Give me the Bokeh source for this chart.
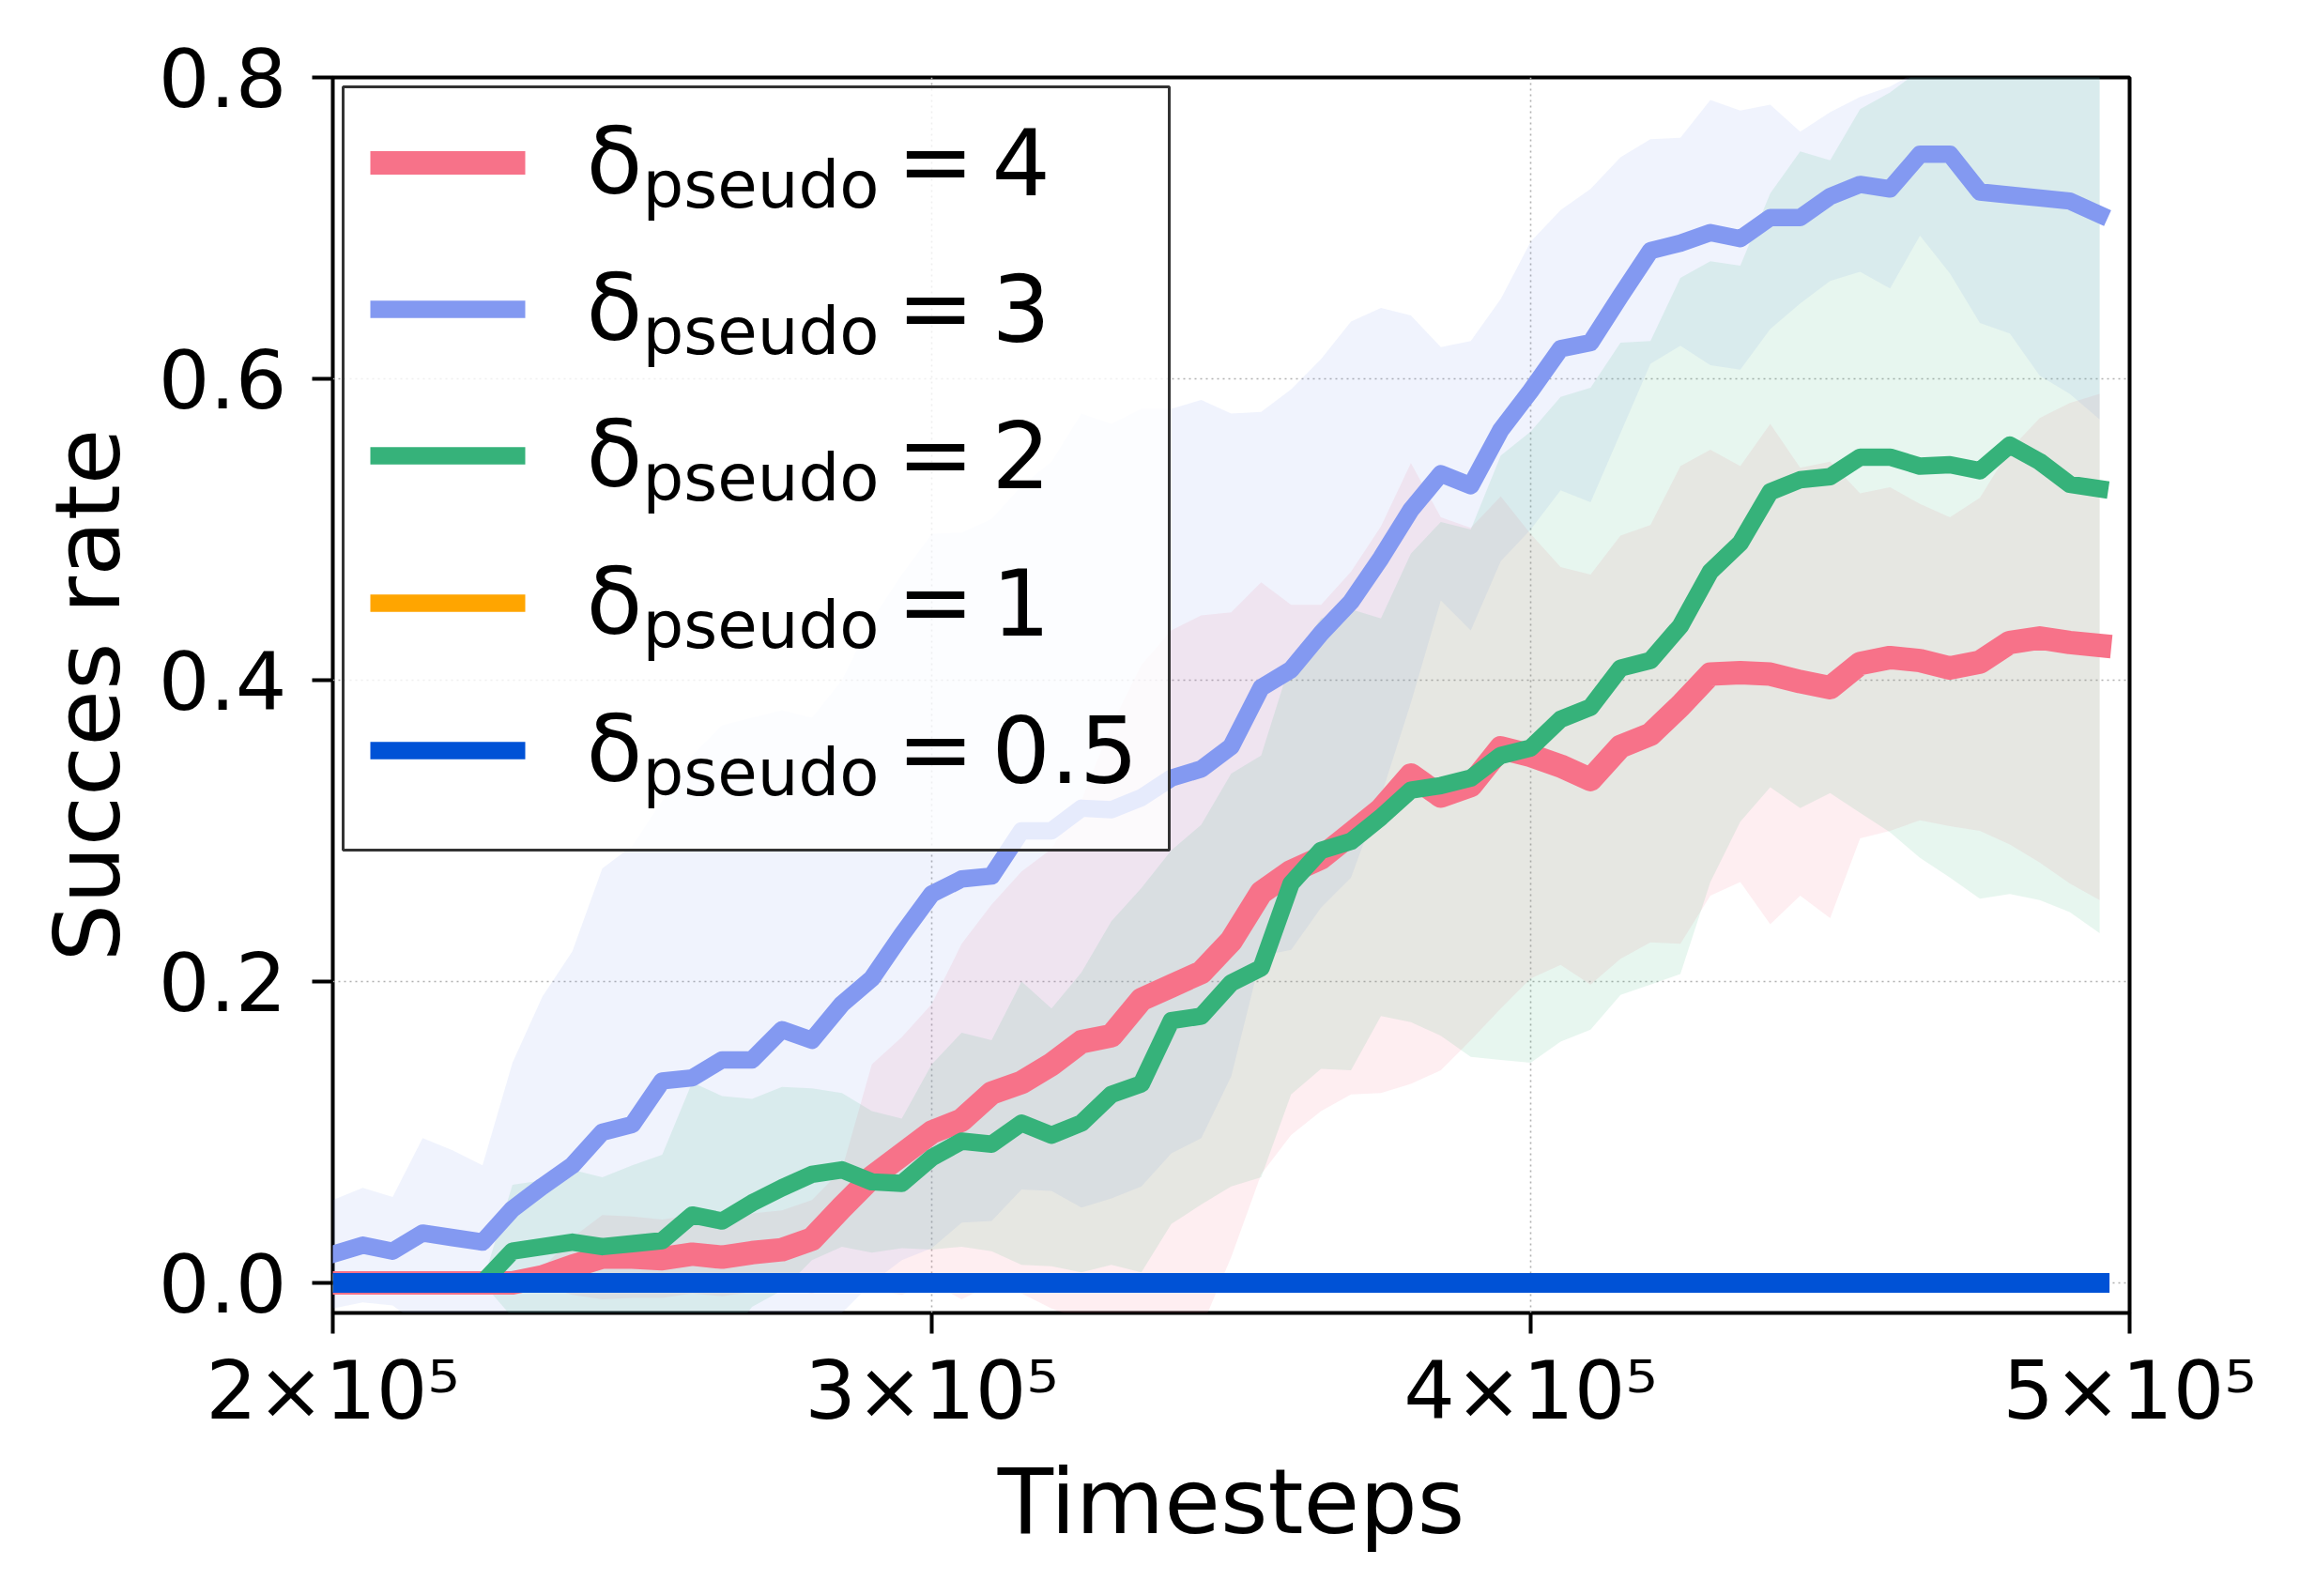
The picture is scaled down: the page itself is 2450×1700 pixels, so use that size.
from bokeh.plotting import figure
from bokeh.models import Range1d, FixedTicker, PrintfTickFormatter, BoxAnnotation, Label
from bokeh.embed import file_html
from bokeh.resources import INLINE

# ---------------- data ----------------
timesteps = list(range(200000, 500000, 5000))  # 60 evaluation points

series_names = ["4", "3", "2", "1", "0.5"]

mean_d4 = [0.0, 0.0, 0.0, 0.0, 0.0, 0.0, 0.0, 0.004, 0.011, 0.017,
           0.017, 0.016, 0.019, 0.017, 0.020, 0.022, 0.029, 0.050, 0.070, 0.085,
           0.100, 0.108, 0.126, 0.133, 0.145, 0.160, 0.164, 0.188, 0.197, 0.206,
           0.227, 0.259, 0.273, 0.282, 0.298, 0.314, 0.337, 0.323, 0.330, 0.355,
           0.350, 0.343, 0.334, 0.356, 0.364, 0.383, 0.404, 0.405, 0.404, 0.399,
           0.395, 0.411, 0.415, 0.413, 0.408, 0.412, 0.425, 0.428, 0.425, 0.423]
upper_d4 = [0.0, 0.0, 0.0, 0.0, 0.0, 0.0, 0.0, 0.010, 0.030, 0.045,
            0.044, 0.042, 0.045, 0.043, 0.046, 0.048, 0.055, 0.075, 0.145, 0.163,
            0.185, 0.225, 0.251, 0.273, 0.288, 0.320, 0.370, 0.410, 0.433, 0.443,
            0.445, 0.465, 0.450, 0.450, 0.472, 0.502, 0.544, 0.508, 0.501, 0.522,
            0.497, 0.475, 0.470, 0.496, 0.503, 0.542, 0.553, 0.542, 0.570, 0.541,
            0.545, 0.524, 0.528, 0.517, 0.508, 0.521, 0.553, 0.574, 0.584, 0.590]
lower_d4 = [0.0, 0.0, 0.0, 0.0, 0.0, 0.0, 0.0, -0.002, -0.008, -0.011,
            -0.010, -0.010, -0.007, -0.009, -0.006, -0.004, -0.007, -0.002, -0.005, -0.008,
            0.000, -0.011, -0.001, -0.007, -0.017, -0.025, -0.030, -0.030, -0.032, -0.030,
            0.017, 0.072, 0.098, 0.114, 0.125, 0.126, 0.132, 0.141, 0.161, 0.182,
            0.202, 0.211, 0.198, 0.215, 0.226, 0.225, 0.257, 0.266, 0.238, 0.257,
            0.242, 0.295, 0.300, 0.307, 0.303, 0.300, 0.291, 0.279, 0.265, 0.254]

mean_d3 = [0.019, 0.025, 0.021, 0.033, 0.030, 0.027, 0.049, 0.064, 0.078, 0.100,
           0.105, 0.134, 0.136, 0.148, 0.148, 0.168, 0.161, 0.185, 0.202, 0.231,
           0.258, 0.268, 0.270, 0.300, 0.300, 0.315, 0.314, 0.322, 0.335, 0.341,
           0.356, 0.395, 0.407, 0.431, 0.452, 0.481, 0.513, 0.537, 0.529, 0.566,
           0.592, 0.620, 0.624, 0.655, 0.685, 0.690, 0.697, 0.693, 0.707, 0.707,
           0.721, 0.729, 0.726, 0.749, 0.749, 0.724, 0.722, 0.720, 0.718, 0.709]
upper_d3 = [0.055, 0.063, 0.057, 0.096, 0.088, 0.078, 0.146, 0.190, 0.220, 0.275,
            0.290, 0.320, 0.350, 0.370, 0.375, 0.380, 0.375, 0.400, 0.440, 0.470,
            0.497, 0.498, 0.507, 0.529, 0.545, 0.577, 0.570, 0.580, 0.580, 0.586,
            0.577, 0.578, 0.593, 0.613, 0.638, 0.647, 0.642, 0.621, 0.625, 0.653,
            0.691, 0.712, 0.726, 0.747, 0.759, 0.760, 0.785, 0.778, 0.782, 0.764,
            0.777, 0.787, 0.794, 0.805, 0.815, 0.830, 0.840, 0.850, 0.850, 0.840]
lower_d3 = [-0.017, -0.013, -0.015, -0.030, -0.028, -0.024, -0.050, -0.060, -0.065, -0.075,
            -0.080, -0.055, -0.080, -0.075, -0.080, -0.045, -0.050, -0.020, 0.000, 0.015,
            0.023, 0.040, 0.041, 0.062, 0.061, 0.050, 0.056, 0.064, 0.086, 0.096,
            0.137, 0.217, 0.221, 0.249, 0.269, 0.323, 0.385, 0.453, 0.433, 0.479,
            0.500, 0.526, 0.518, 0.564, 0.610, 0.622, 0.609, 0.606, 0.633, 0.650,
            0.665, 0.671, 0.660, 0.695, 0.670, 0.637, 0.630, 0.602, 0.590, 0.573]

mean_d2 = [0.0, 0.0, 0.0, 0.0, 0.0, 0.0, 0.021, 0.024, 0.027, 0.024,
           0.026, 0.028, 0.045, 0.041, 0.053, 0.063, 0.072, 0.075, 0.067, 0.066,
           0.083, 0.094, 0.092, 0.106, 0.098, 0.106, 0.125, 0.132, 0.174, 0.177,
           0.199, 0.209, 0.265, 0.287, 0.293, 0.309, 0.327, 0.330, 0.335, 0.350,
           0.355, 0.374, 0.382, 0.408, 0.413, 0.436, 0.472, 0.491, 0.525, 0.533,
           0.535, 0.548, 0.548, 0.542, 0.543, 0.539, 0.556, 0.545, 0.530, 0.527]
upper_d2 = [0.0, 0.0, 0.0, 0.0, 0.0, 0.0, 0.065, 0.068, 0.075, 0.070,
            0.078, 0.085, 0.133, 0.124, 0.122, 0.130, 0.129, 0.126, 0.114, 0.109,
            0.145, 0.166, 0.161, 0.200, 0.182, 0.206, 0.240, 0.262, 0.287, 0.304,
            0.338, 0.350, 0.413, 0.441, 0.447, 0.441, 0.484, 0.505, 0.500, 0.549,
            0.565, 0.588, 0.594, 0.624, 0.625, 0.667, 0.678, 0.675, 0.723, 0.751,
            0.745, 0.779, 0.790, 0.805, 0.820, 0.830, 0.835, 0.830, 0.820, 0.815]
lower_d2 = [0.0, 0.0, 0.0, 0.0, 0.0, 0.0, -0.023, -0.020, -0.022, -0.022,
            -0.026, -0.030, -0.043, -0.042, -0.016, -0.005, 0.015, 0.024, 0.020, 0.023,
            0.022, 0.024, 0.021, 0.012, 0.011, 0.007, 0.012, 0.007, 0.039, 0.052,
            0.064, 0.070, 0.125, 0.142, 0.141, 0.177, 0.173, 0.164, 0.150, 0.148,
            0.146, 0.160, 0.168, 0.191, 0.198, 0.205, 0.266, 0.306, 0.329, 0.315,
            0.325, 0.312, 0.299, 0.282, 0.269, 0.255, 0.258, 0.254, 0.246, 0.232]

mean_d1 = [0.0, 0.0, 0.0, 0.0, 0.0, 0.0, 0.0, 0.0, 0.0, 0.0,
           0.0, 0.0, 0.0, 0.0, 0.0, 0.0, 0.0, 0.0, 0.0, 0.0,
           0.0, 0.0, 0.0, 0.0, 0.0, 0.0, 0.0, 0.0, 0.0, 0.0,
           0.0, 0.0, 0.0, 0.0, 0.0, 0.0, 0.0, 0.0, 0.0, 0.0,
           0.0, 0.0, 0.0, 0.0, 0.0, 0.0, 0.0, 0.0, 0.0, 0.0,
           0.0, 0.0, 0.0, 0.0, 0.0, 0.0, 0.0, 0.0, 0.0, 0.0]
mean_d05 = [0.0, 0.0, 0.0, 0.0, 0.0, 0.0, 0.0, 0.0, 0.0, 0.0,
            0.0, 0.0, 0.0, 0.0, 0.0, 0.0, 0.0, 0.0, 0.0, 0.0,
            0.0, 0.0, 0.0, 0.0, 0.0, 0.0, 0.0, 0.0, 0.0, 0.0,
            0.0, 0.0, 0.0, 0.0, 0.0, 0.0, 0.0, 0.0, 0.0, 0.0,
            0.0, 0.0, 0.0, 0.0, 0.0, 0.0, 0.0, 0.0, 0.0, 0.0,
            0.0, 0.0, 0.0, 0.0, 0.0, 0.0, 0.0, 0.0, 0.0, 0.0]

x_ticks = [200000, 300000, 400000, 500000]
x_tick_labels = ["2×10⁵", "3×10⁵", "4×10⁵", "5×10⁵"]
y_ticks = [0.0, 0.2, 0.4, 0.6, 0.8]

# ---------------- style ----------------
COL = {"4": "#F77289", "3": "#8399F1", "2": "#36B27A", "1": "#FFA500", "0.5": "#0052D6"}
LW = {"4": 25, "3": 18.5, "2": 18.5, "1": 18.5, "0.5": 21}
LEG_LW = {"4": 25, "3": 18.5, "2": 18.5, "1": 18.5, "0.5": 18.5}
FONT = "DejaVu Sans"

X0, X1 = 200000, 500000
Y0, Y1 = -0.02, 0.8
FL, FT, FW, FH = 354, 82, 1914, 1316
FB = FT + FH

p = figure(frame_width=FW, frame_height=FH,
           x_range=Range1d(X0, X1), y_range=Range1d(Y0, Y1),
           output_backend="svg", toolbar_location=None,
           min_border_left=FL, min_border_top=FT,
           min_border_right=2434 - FL - FW, min_border_bottom=1684 - FB)
p.background_fill_color = "white"
p.border_fill_color = "white"
p.outline_line_color = "black"
p.outline_line_width = 4

bands = [(upper_d4, lower_d4, mean_d4, "4"),
         (upper_d3, lower_d3, mean_d3, "3"),
         (upper_d2, lower_d2, mean_d2, "2")]
for up, lo, mn, key in bands:
    p.varea(x=timesteps, y1=lo, y2=up, fill_color=COL[key], fill_alpha=0.12)
for up, lo, mn, key in bands:
    p.line(timesteps, mn, line_color=COL[key], line_width=LW[key],
           line_join="round", line_cap="square")
p.line(timesteps, mean_d1, line_color=COL["1"], line_width=LW["1"], line_cap="square")
p.line(timesteps, mean_d05, line_color=COL["0.5"], line_width=LW["0.5"], line_cap="square")

# axes
for ax in (p.xaxis[0], p.yaxis[0]):
    ax.axis_line_color = None
    ax.major_tick_line_color = "black"
    ax.major_tick_line_width = 4
    ax.major_tick_out = 22
    ax.major_tick_in = 0
    ax.minor_tick_line_color = None
    ax.major_label_text_font = FONT
    ax.major_label_text_font_size = "86px"
    ax.major_label_text_color = "black"
    ax.axis_label_text_font = FONT
    ax.axis_label_text_font_size = "97px"
    ax.axis_label_text_font_style = "normal"
    ax.axis_label_text_color = "black"

p.xaxis.ticker = FixedTicker(ticks=x_ticks)
p.xaxis.major_label_overrides = dict(zip(x_ticks, x_tick_labels))
p.xaxis.major_label_standoff = 10
p.xaxis.axis_label = "Timesteps"
p.xaxis.axis_label_standoff = 9

p.yaxis.ticker = FixedTicker(ticks=y_ticks)
p.yaxis.formatter = PrintfTickFormatter(format="%.1f")
p.yaxis.major_label_standoff = 27
p.yaxis.axis_label = "Succes rate"
p.yaxis.axis_label_standoff = 16

for g in (p.xgrid[0], p.ygrid[0]):
    g.grid_line_color = "#b0b0b0"
    g.grid_line_width = 1.6
    g.grid_line_dash = "2 4"

# ---------------- legend (drawn by hand for the subscript) ----------------
def xd(cx):
    return X0 + (cx - FL) / FW * (X1 - X0)

def yd(cy):
    return Y0 + (FB - cy) / FH * (Y1 - Y0)

p.add_layout(BoxAnnotation(left=xd(365), right=xd(1245), top=yd(92), bottom=yd(905),
                           fill_color="white", fill_alpha=0.8,
                           line_color="#333333", line_width=3, line_alpha=1.0))
row_y = [173, 329, 485, 642, 799]
for key, sy in zip(series_names, row_y):
    p.segment(x0=[xd(394)], y0=[yd(sy)], x1=[xd(559)], y1=[yd(sy)],
              line_color=COL[key], line_width=LEG_LW[key], level="overlay")
    p.add_layout(Label(x=xd(624), y=yd(sy - 2), text="δ", text_font=FONT,
                       text_font_size="98px", text_baseline="alphabetic",
                       text_align="left", text_color="black", level="overlay"))
    p.add_layout(Label(x=xd(684), y=yd(sy + 23), text="pseudo", text_font=FONT,
                       text_font_size="69px", text_baseline="alphabetic",
                       text_align="left", text_color="black", level="overlay"))
    p.add_layout(Label(x=xd(955), y=yd(sy - 2), text="=", text_font=FONT,
                       text_font_size="98px", text_baseline="alphabetic",
                       text_align="left", text_color="black", level="overlay"))
    p.add_layout(Label(x=xd(1056), y=yd(sy - 2), text=key, text_font=FONT,
                       text_font_size="98px", text_baseline="alphabetic",
                       text_align="left", text_color="black", level="overlay"))

open("out.html", "w").write(file_html(p, INLINE))
